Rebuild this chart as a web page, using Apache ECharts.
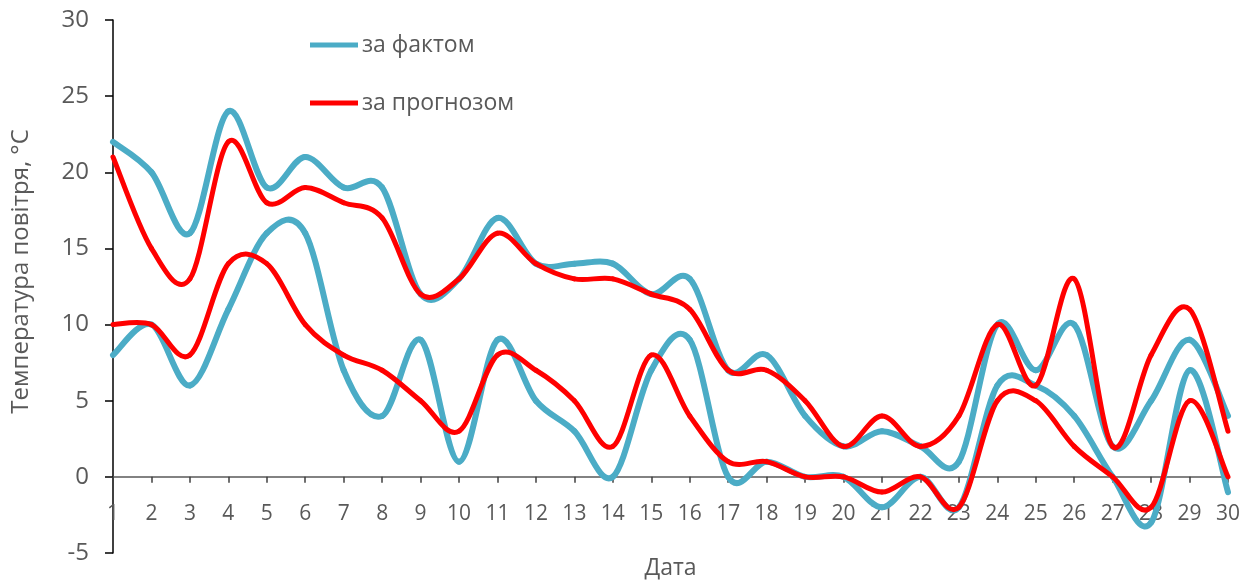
<!DOCTYPE html>
<html>
<head>
<meta charset="utf-8">
<script src="https://cdn.jsdelivr.net/npm/echarts@6/dist/echarts.min.js"></script>
<style>
html,body{margin:0;padding:0;background:#fff;}
#chart{width:1250px;height:582px;}
</style>
</head>
<body>
<div id="chart"></div>
<script>
const days = ['1','2','3','4','5','6','7','8','9','10','11','12','13','14','15','16','17','18','19','20','21','22','23','24','25','26','27','28','29','30'];
const maxFact =     [22,20,16,24,19,21,19,19,12,13,17,14,14,14,12,13,7,8,4,2,3,2,1,10,7,10,2,5,9,4];
const maxForecast = [21,15,13,22,18,19,18,17,12,13,16,14,13,13,12,11,7,7,5,2,4,2,4,10,6,13,2,8,11,3];
const minFact =     [8,10,6,11,16,16,7,4,9,1,9,5,3,0,7,9,0,1,0,0,-2,0,-2,6,6,4,0,-3,7,-1];
const minForecast = [10,10,8,14,14,10,8,7,5,3,8,7,5,2,8,4,1,1,0,0,-1,0,-2,5,5,2,0,-2,5,0];
const yMin = -5, yMax = 30, yStep = 5;
const nameFact = 'за фактом';
const nameForecast = 'за прогнозом';
const yTitle = 'Температура повітря, °С';
const xTitle = 'Дата';

const FONT = 'Open Sans';
const BLUE = '#4BACC6';
const RED = '#FF0000';
const GREY = '#595959';

const W = 1250, H = 582;
const grid = {left: 113, right: 22, top: 20, bottom: 29};
// place the category axis on the zero line of the value axis
const plotH = H - grid.top - grid.bottom;
const zeroOffset = -plotH * (0 - yMin) / (yMax - yMin);

const chart = echarts.init(document.getElementById('chart'));

// Smoothed line drawn segment by segment (Catmull-Rom style Bezier) through the axis scales.
function curve(name, arr, color, width, z) {
  const n = arr.length;
  const at = (api, k) => { const j = Math.max(0, Math.min(n - 1, k)); return api.coord([j, arr[j]]); };
  return {
    name: name, type: 'custom', z: z,
    data: arr.map((v, i) => [i, v]),
    encode: {x: 0, y: 1},
    itemStyle: {color: color},
    clip: false,
    renderItem: function (params, api) {
      const i = params.dataIndex;
      if (i >= n - 1) return {type: 'group', children: []};
      const p0 = at(api, i - 1), p1 = at(api, i), p2 = at(api, i + 1), p3 = at(api, i + 2);
      const t = 1 / 6;
      return {
        type: 'bezierCurve',
        shape: {
          x1: p1[0], y1: p1[1], x2: p2[0], y2: p2[1],
          cpx1: p1[0] + (p2[0] - p0[0]) * t, cpy1: p1[1] + (p2[1] - p0[1]) * t,
          cpx2: p2[0] - (p3[0] - p1[0]) * t, cpy2: p2[1] - (p3[1] - p1[1]) * t
        },
        style: {stroke: color, lineWidth: width, fill: null, lineCap: 'round'}
      };
    }
  };
}

chart.setOption({
  animation: false,
  textStyle: {fontFamily: FONT},
  grid: Object.assign({containLabel: false, outerBoundsMode: 'none'}, grid),
  legend: {
    data: [{name: nameFact, icon: 'rect'}, {name: nameForecast, icon: 'rect'}],
    orient: 'vertical', left: 310, top: 31, padding: 0,
    itemWidth: 48, itemHeight: 5, itemGap: 30,
    textStyle: {fontFamily: FONT, fontSize: 23, color: GREY, lineHeight: 28, padding: [0, 0, 0, -1]}
  },
  xAxis: {
    type: 'category', data: days, boundaryGap: false,
    position: 'bottom', offset: zeroOffset,
    axisLine: {onZero: false, lineStyle: {color: GREY, width: 1.5}},
    axisTick: {show: true, alignWithLabel: true, length: 6, lineStyle: {color: '#404040', width: 1.5}},
    axisLabel: {interval: 0, margin: 27, fontSize: 21, color: GREY, fontFamily: FONT},
    name: xTitle, nameLocation: 'middle', nameGap: 80,
    nameTextStyle: {fontSize: 23, color: GREY, fontFamily: FONT},
    splitLine: {show: false}
  },
  yAxis: {
    type: 'value', min: yMin, max: yMax, interval: yStep,
    axisLine: {show: true, lineStyle: {color: '#000000', width: 1.5}},
    axisTick: {show: true, length: 8, lineStyle: {color: '#000000', width: 1.5}},
    axisLabel: {margin: 24, fontSize: 24, color: GREY, fontFamily: FONT},
    splitLine: {show: false},
    name: yTitle, nameLocation: 'middle', nameGap: 80, nameRotate: 90,
    nameTextStyle: {fontSize: 24, color: GREY, fontFamily: FONT, padding: [0, 0, 0, 30]}
  },
  series: [
    curve(nameFact, maxFact, BLUE, 6, 2),
    curve(nameFact, minFact, BLUE, 6, 2),
    curve(nameForecast, maxForecast, RED, 5, 3),
    curve(nameForecast, minForecast, RED, 5, 3)
  ]
});
</script>
</body>
</html>
